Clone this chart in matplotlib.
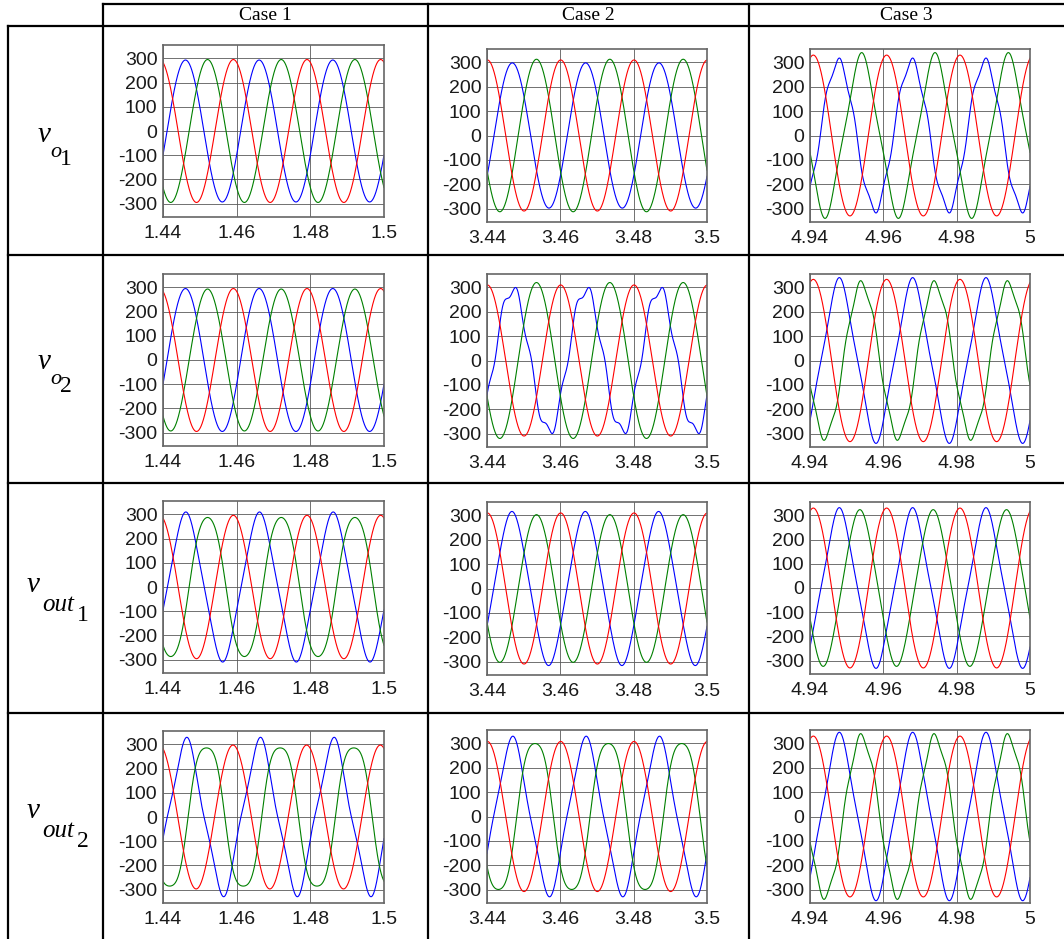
import numpy as np
import matplotlib.pyplot as plt
from matplotlib.lines import Line2D

W, H = 1064, 939

# ---- data ----
CASES = ['Case 1', 'Case 2', 'Case 3']
T_START = [1.44, 3.44, 4.94]
T_END = [1.5, 3.5, 5.0]
XTICKS = [[1.44, 1.46, 1.48, 1.5], [3.44, 3.46, 3.48, 3.5], [4.94, 4.96, 4.98, 5.0]]
XTICKLABELS = [['1.44', '1.46', '1.48', '1.5'],
               ['3.44', '3.46', '3.48', '3.5'],
               ['4.94', '4.96', '4.98', '5']]
YTICKS = [-300, -200, -100, 0, 100, 200, 300]
F0 = 50  # Hz

ROW_SUB = ['o', 'o', 'out', 'out']
ROW_IDX = ['1', '2', '1', '2']

# fundamental amplitude per row (v_o1, v_o2, v_out1, v_out2) and case
AMP_R = [[295, 310, 330], [295, 310, 333], [296, 310, 330], [297, 308, 330]]
AMP_B = [[293, 298, 302], [295, 292, 315], [295, 307, 310], [300, 306, 320]]
AMP_G = [[295, 313, 315], [293, 320, 314], [299, 303, 314], [310, 322, 326]]

# time of the fundamental peak, seconds after window start
PEAK_R = [[-0.0009, 0.0001, 0.0009], [-0.0009, 0.0001, 0.0009],
          [-0.0009, 0.0001, 0.0009], [-0.0010, 0.0001, 0.0009]]
PEAK_B = [[0.0061, 0.0069, 0.0077], [0.0061, 0.0069, 0.0080],
          [0.0062, 0.0068, 0.0080], [0.0063, 0.0069, 0.0080]]
PEAK_G = [[0.0121, 0.0135, 0.0141], [0.0121, 0.0135, 0.0141],
          [0.0121, 0.0135, 0.0136], [0.0118, 0.0131, 0.0141]]

# harmonic content: (order, relative amplitude, phase deg)
HARM_R = [[[], [], []], [[], [], []], [[], [], []], [[], [], []]]
HARM_B = [[[], [], [(5, 0.06, 315)]],
          [[], [(5, 0.085, 240)], [(3, 0.08, 0)]],
          [[(3, 0.05, 0)], [(3, 0.03, 0)], [(3, 0.07, 0)]],
          [[(3, 0.10, -20)], [(3, 0.08, -20)], [(3, 0.08, 0)]]]
HARM_G = [[[], [], [(3, 0.08, 0)]],
          [[], [], [(5, 0.05, 45)]],
          [[(3, -0.04, 0)], [], [(3, 0.03, 0)]],
          [[(3, -0.08, 0)], [(3, -0.07, 0)], [(5, 0.05, 45)]]]

# ---- layout (pixels) ----
COL_L = [163, 487, 810]
COL_R = [384, 707, 1030]
ROW_T = [[45, 49, 49], [274, 274, 274], [501, 502, 502], [731, 730, 730]]
ROW_B = [[217, 222, 222], [446, 447, 447], [673, 675, 674], [903, 903, 903]]
LABEL_Y = [142, 369, 592, 818]


def wave(t, t0, amp, tp, harm):
    th = 2 * np.pi * F0 * (t - t0 - tp)
    y = np.cos(th)
    for k, rel, ph in harm:
        y = y + rel * np.cos(k * th + np.deg2rad(ph))
    return amp * y


def fx(x):
    return x / W


def fy(y):
    return 1 - y / H


fig = plt.figure(figsize=(W / 100, H / 100), dpi=100)
fig.patch.set_facecolor('white')

for r in range(4):
    for c in range(3):
        l, rr = COL_L[c], COL_R[c]
        t, b = ROW_T[r][c], ROW_B[r][c]
        ax = fig.add_axes([fx(l), fy(b), (rr - l) / W, (b - t) / H])
        tt = np.linspace(T_START[c], T_END[c], 1200)
        ax.plot(tt, wave(tt, T_START[c], AMP_B[r][c], PEAK_B[r][c], HARM_B[r][c]),
                color='#0000ff', lw=0.8)
        ax.plot(tt, wave(tt, T_START[c], AMP_G[r][c], PEAK_G[r][c], HARM_G[r][c]),
                color='#008000', lw=0.8)
        ax.plot(tt, wave(tt, T_START[c], AMP_R[r][c], PEAK_R[r][c], HARM_R[r][c]),
                color='#ff0000', lw=0.8)
        ax.set_xlim(T_START[c], T_END[c])
        ax.set_ylim(-355, 355)
        ax.set_xticks(XTICKS[c])
        ax.set_xticklabels(XTICKLABELS[c])
        ax.set_yticks(YTICKS)
        ax.set_yticklabels([str(v) for v in YTICKS])
        ax.grid(True, color='0.35', lw=0.6)
        ax.set_axisbelow(True)
        ax.tick_params(length=0, labelsize=14, colors='#1a1a1a')
        ax.tick_params(axis='x', pad=6)
        ax.tick_params(axis='y', pad=4)
        for lab in ax.get_xticklabels() + ax.get_yticklabels():
            lab.set_family('Liberation Sans')
        for s in ax.spines.values():
            s.set_color('0.4')
            s.set_linewidth(1.2)

# table lines
lw_tab = 1.6
hlines = [(103, 1064, 4), (8, 1064, 26), (8, 1064, 255), (8, 1064, 483), (8, 1064, 713)]
for x0, x1, y in hlines:
    fig.add_artist(Line2D([fx(x0), fx(x1)], [fy(y), fy(y)], color='k', lw=lw_tab))
vlines = [(8, 26, 939), (103, 4, 939), (428, 4, 939), (749, 4, 939)]
for x, y0, y1 in vlines:
    fig.add_artist(Line2D([fx(x), fx(x)], [fy(y0), fy(y1)], color='k', lw=lw_tab))

# headers
head_x = [265, 588, 906]
for c in range(3):
    fig.text(fx(head_x[c]), fy(15), CASES[c], ha='center', va='center',
             family='Liberation Serif', size=14)

# row labels  v_{o_1} etc.
for r in range(4):
    y0 = LABEL_Y[r]
    if ROW_SUB[r] == 'o':
        xv, xs, xi, ds, di, ss = 38, 50, 60, 15, 23, 16
    else:
        xv, xs, xi, ds, di, ss = 27, 42, 77, 19, 29, 18
    fig.text(fx(xv), fy(y0), 'v', ha='left', va='baseline',
             family='Liberation Serif', style='italic', size=21)
    fig.text(fx(xs), fy(y0 + ds), ROW_SUB[r], ha='left', va='baseline',
             family='Liberation Serif', style='italic', size=ss)
    fig.text(fx(xi), fy(y0 + di), ROW_IDX[r], ha='left', va='baseline',
             family='Liberation Serif', size=17)

fig.savefig('out.png', dpi=100, facecolor='white')
